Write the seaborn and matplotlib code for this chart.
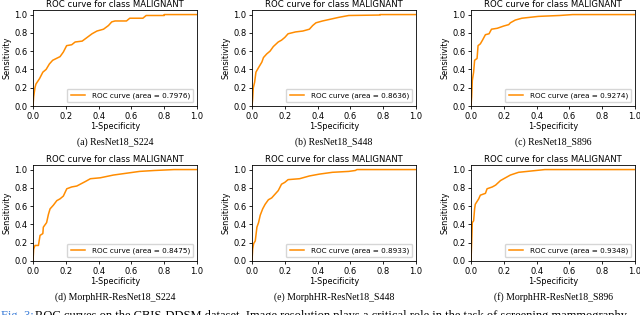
import numpy as np
import pandas as pd
import seaborn as sns
import matplotlib.pyplot as plt

# ROC points (1-specificity, sensitivity)
fpr_a = [0, 0.004, 0.012, 0.018, 0.04, 0.06, 0.08, 0.1, 0.12, 0.165, 0.185, 0.205, 0.236, 0.257, 0.3, 0.33, 0.36, 0.39, 0.43, 0.46, 0.48, 0.5, 0.57, 0.59, 0.67, 0.69, 0.8, 0.8, 1.0]
tpr_a = [0, 0.1, 0.2, 0.24, 0.3, 0.37, 0.4, 0.46, 0.5, 0.54, 0.59, 0.66, 0.67, 0.70, 0.71, 0.75, 0.79, 0.82, 0.84, 0.88, 0.92, 0.93, 0.93, 0.96, 0.96, 0.99, 0.99, 1.0, 1.0]

fpr_b = [0, 0.004, 0.008, 0.016, 0.024, 0.04, 0.06, 0.07, 0.09, 0.11, 0.13, 0.16, 0.18, 0.2, 0.22, 0.265, 0.31, 0.35, 0.37, 0.39, 0.43, 0.48, 0.53, 0.59, 0.78, 0.78, 1.0]
tpr_b = [0, 0.08, 0.2, 0.26, 0.37, 0.42, 0.48, 0.53, 0.57, 0.6, 0.65, 0.7, 0.72, 0.75, 0.79, 0.81, 0.82, 0.84, 0.88, 0.91, 0.93, 0.95, 0.97, 0.99, 0.995, 1.0, 1.0]

fpr_c = [0, 0.004, 0.008, 0.016, 0.022, 0.037, 0.043, 0.057, 0.07, 0.088, 0.11, 0.125, 0.16, 0.2, 0.23, 0.24, 0.27, 0.31, 0.41, 0.54, 0.62, 1.0]
tpr_c = [0, 0.1, 0.28, 0.37, 0.5, 0.52, 0.66, 0.68, 0.72, 0.78, 0.79, 0.84, 0.85, 0.875, 0.89, 0.91, 0.94, 0.96, 0.98, 0.99, 1.0, 1.0]

fpr_d = [0, 0.004, 0.012, 0.033, 0.043, 0.06, 0.063, 0.083, 0.094, 0.104, 0.124, 0.145, 0.165, 0.185, 0.206, 0.236, 0.267, 0.32, 0.35, 0.41, 0.49, 0.57, 0.65, 0.74, 0.86, 1.0]
tpr_d = [0, 0.13, 0.17, 0.17, 0.28, 0.3, 0.37, 0.42, 0.51, 0.57, 0.61, 0.66, 0.68, 0.71, 0.79, 0.81, 0.82, 0.87, 0.9, 0.91, 0.94, 0.96, 0.98, 0.99, 1.0, 1.0]

fpr_e = [0, 0.004, 0.01, 0.02, 0.03, 0.04, 0.05, 0.065, 0.08, 0.1, 0.12, 0.14, 0.16, 0.18, 0.2, 0.22, 0.29, 0.35, 0.41, 0.49, 0.59, 0.63, 0.64, 1.0]
tpr_e = [0, 0.13, 0.19, 0.22, 0.37, 0.42, 0.5, 0.57, 0.62, 0.67, 0.69, 0.73, 0.77, 0.84, 0.86, 0.89, 0.9, 0.93, 0.95, 0.97, 0.98, 0.99, 1.0, 1.0]

fpr_f = [0, 0.004, 0.008, 0.016, 0.022, 0.026, 0.047, 0.057, 0.088, 0.098, 0.13, 0.15, 0.18, 0.22, 0.24, 0.29, 0.37, 0.45, 1.0]
tpr_f = [0, 0.2, 0.42, 0.44, 0.57, 0.62, 0.68, 0.72, 0.74, 0.79, 0.81, 0.83, 0.88, 0.92, 0.94, 0.97, 0.985, 1.0, 1.0]

aucs = ["0.7976", "0.8636", "0.9274", "0.8475", "0.8933", "0.9348"]
captions = ["(a) ResNet18_S224", "(b) ResNet18_S448", "(c) ResNet18_S896",
            "(d) MorphHR-ResNet18_S224", "(e) MorphHR-ResNet18_S448", "(f) MorphHR-ResNet18_S896"]

curves = [(fpr_a, tpr_a), (fpr_b, tpr_b), (fpr_c, tpr_c),
          (fpr_d, tpr_d), (fpr_e, tpr_e), (fpr_f, tpr_f)]

fig = plt.figure(figsize=(6.4, 3.15), dpi=100)

lefts = [33 / 640, 252 / 640, 471 / 640]
bottoms = [1 - 106 / 315, 1 - 261 / 315]
cap_y = [1 - 142 / 315, 1 - 297 / 315]
w, h = 164 / 640, 96 / 315

for i, (fpr, tpr) in enumerate(curves):
    r, c = divmod(i, 3)
    ax = fig.add_axes([lefts[c], bottoms[r], w, h])
    df = pd.DataFrame({"fpr": fpr, "tpr": tpr})
    sns.lineplot(data=df, x="fpr", y="tpr", ax=ax, sort=False, estimator=None,
                 color="darkorange", lw=1.1,
                 label="ROC curve (area = %s)" % aucs[i])
    ax.set_xlim(0.0, 1.0)
    ax.set_ylim(0.0, 1.05)
    ax.set_xticks(np.arange(0, 1.01, 0.2))
    ax.set_yticks(np.arange(0, 1.01, 0.2))
    ax.tick_params(labelsize=6.0, length=2.5, width=0.6, pad=1.5)
    for s in ax.spines.values():
        s.set_linewidth(0.6)
    ax.set_xlabel("1-Specificity", fontsize=5.9, labelpad=1)
    ax.set_ylabel("Sensitivity", fontsize=5.9, labelpad=2)
    ax.set_title("ROC curve for class MALIGNANT", fontsize=6.1, pad=2)
    ax.legend(loc="lower right", fontsize=5.2, handlelength=2.0, borderpad=0.5,
              handletextpad=0.9)
    fig.text(lefts[c] + w / 2, cap_y[r], captions[i], ha="center", va="center",
             fontsize=7, family="Liberation Serif")

fig.text(0.002, 1 - 310 / 315, "Fig. 3:", color="#3b7dd8", fontsize=9,
         family="Liberation Serif", va="top", ha="left")
fig.text(0.055, 1 - 310 / 315,
         "ROC curves on the CBIS-DDSM dataset. Image resolution plays a critical role in the task of screening mammography.",
         fontsize=9, family="Liberation Serif", va="top", ha="left")

fig.savefig("out.png", dpi=100)
